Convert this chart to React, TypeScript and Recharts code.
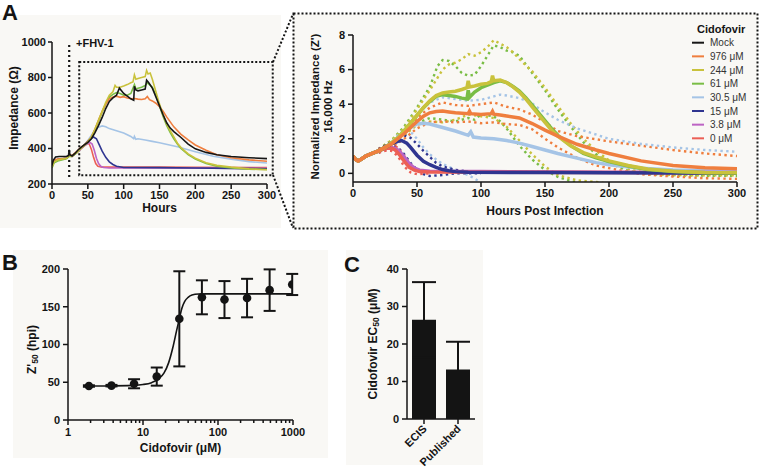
import React from "react";
import {
  Bar,
  BarChart,
  ComposedChart,
  ErrorBar,
  Line,
  LineChart,
  ReferenceArea,
  ReferenceLine,
  Scatter,
  XAxis,
  YAxis,
} from "recharts";

const FONT = '"Liberation Sans", Arial, Helvetica, sans-serif';
const INK = "#141414";
const PANEL_BG = "#f9f8f5";

type Pair = [number, number];

// ---------- Panel A, left: raw impedance (ohm) vs hours ----------
const hourTicks = [0, 50, 100, 150, 200, 250, 300];
const ohmTicks = [200, 400, 600, 800, 1000];

const mockOhm: Pair[] = [
  [0, 305], [2, 335], [5, 352], [10, 355], [20, 355], [23, 360], [24, 392], [25, 365], [28, 358],
  [32, 372], [36, 390], [40, 405], [45, 420], [50, 435], [55, 455], [60, 490], [65, 530], [70, 575],
  [75, 625], [80, 665], [85, 685], [90, 700], [94, 740], [97, 725], [100, 710], [105, 695], [110, 680],
  [114, 672], [115, 750], [117, 730], [120, 725], [125, 730], [130, 735], [132, 785], [135, 770],
  [140, 740], [145, 690], [150, 640], [155, 590], [160, 545], [165, 515], [170, 495], [180, 462],
  [190, 425], [200, 398], [215, 378], [230, 365], [250, 355], [275, 348], [300, 343],
];
const ohm976: Pair[] = [
  [0, 320], [3, 335], [8, 340], [20, 345], [24, 365], [28, 360], [35, 385], [40, 405], [45, 420],
  [50, 440], [55, 465], [60, 510], [65, 560], [70, 610], [75, 650], [80, 680], [85, 690], [90, 695],
  [95, 688], [100, 692], [105, 685], [110, 680], [115, 682], [120, 678], [125, 676], [130, 680],
  [133, 693], [136, 675], [140, 668], [145, 655], [150, 635], [155, 610], [160, 578], [165, 550],
  [170, 522], [180, 480], [190, 448], [200, 420], [215, 390], [230, 365], [250, 348], [275, 336],
  [300, 328],
];
const ohm244: Pair[] = [
  [0, 295], [3, 325], [8, 335], [20, 345], [24, 360], [28, 358], [35, 380], [40, 400], [45, 418],
  [50, 438], [55, 465], [60, 510], [65, 560], [70, 610], [75, 660], [80, 700], [85, 720], [88, 755],
  [90, 745], [95, 745], [100, 752], [105, 760], [110, 770], [113, 775], [115, 815], [117, 790],
  [120, 795], [125, 800], [130, 805], [132, 840], [134, 820], [137, 825], [140, 790], [145, 720],
  [150, 650], [155, 590], [160, 540], [165, 500], [170, 465], [175, 430], [180, 405], [190, 370],
  [200, 345], [215, 320], [230, 305], [250, 295], [275, 285], [300, 280],
];
const ohm61: Pair[] = [
  [0, 290], [3, 320], [8, 330], [20, 342], [24, 355], [28, 355], [35, 378], [40, 400], [45, 418],
  [50, 436], [55, 462], [60, 505], [65, 555], [70, 605], [75, 650], [80, 690], [85, 705], [90, 715],
  [95, 710], [100, 700], [105, 700], [110, 710], [115, 760], [117, 735], [120, 740], [125, 745],
  [130, 755], [133, 770], [136, 760], [140, 745], [145, 700], [150, 640], [155, 580], [160, 530],
  [165, 490], [170, 455], [175, 425], [180, 400], [190, 365], [200, 340], [215, 315], [230, 300],
  [250, 290], [275, 283], [300, 282],
];
const ohm305: Pair[] = [
  [0, 300], [3, 330], [8, 338], [20, 345], [24, 360], [28, 358], [35, 380], [40, 400], [45, 420],
  [50, 445], [55, 475], [60, 505], [65, 520], [70, 527], [75, 522], [80, 512], [90, 500], [100, 487],
  [110, 468], [114, 455], [115, 468], [117, 452], [120, 455], [130, 448], [140, 440], [150, 432],
  [175, 410], [200, 382], [225, 356], [250, 340], [275, 326], [300, 318],
];
const ohm15: Pair[] = [
  [0, 300], [3, 330], [8, 338], [20, 345], [24, 360], [28, 358], [35, 380], [40, 400], [45, 420],
  [50, 440], [55, 458], [58, 465], [62, 455], [66, 420], [70, 385], [75, 350], [80, 325], [85, 310],
  [90, 300], [100, 293], [150, 292], [200, 290], [250, 288], [300, 286],
];
const ohm38: Pair[] = [
  [0, 300], [3, 328], [8, 336], [20, 345], [24, 358], [28, 356], [35, 378], [40, 398], [45, 415],
  [50, 428], [53, 434], [56, 425], [59, 390], [62, 345], [65, 315], [68, 300], [72, 293], [80, 290],
  [150, 290], [300, 288],
];
const ohm0: Pair[] = [
  [0, 305], [3, 330], [8, 338], [20, 345], [24, 358], [28, 356], [35, 378], [40, 398], [45, 415],
  [49, 428], [52, 425], [55, 395], [58, 350], [61, 315], [64, 300], [70, 295], [150, 295], [200, 294],
  [300, 292],
];

// ---------- Panel A, right: normalized impedance Z' ----------
const zTicks = [0, 2, 4, 6, 8];

const z976: Pair[] = [
  [0, 1.0], [2, 0.8], [4, 0.72], [7, 0.85], [10, 1.0], [15, 1.15], [20, 1.3], [25, 1.5], [30, 1.7],
  [35, 2.0], [40, 2.3], [45, 2.65], [50, 3.0], [55, 3.3], [60, 3.5], [65, 3.58], [70, 3.6], [75, 3.55],
  [80, 3.5], [90, 3.45], [91, 3.6], [92, 3.45], [100, 3.4], [108, 3.45], [109, 3.58], [110, 3.42],
  [115, 3.38], [120, 3.32], [130, 3.2], [140, 2.88], [150, 2.5], [160, 2.15], [175, 1.68],
  [190, 1.35], [200, 1.15], [225, 0.72], [250, 0.45], [275, 0.32], [300, 0.26],
];
const z244: Pair[] = [
  [0, 1.0], [2, 0.8], [4, 0.72], [7, 0.85], [10, 1.0], [15, 1.15], [20, 1.3], [25, 1.5], [30, 1.75],
  [35, 2.05], [40, 2.45], [45, 2.9], [50, 3.35], [55, 3.8], [60, 4.2], [65, 4.5], [70, 4.65],
  [75, 4.7], [80, 4.75], [85, 4.85], [89, 4.95], [90, 5.35], [91, 5.0], [95, 5.05], [100, 5.15],
  [105, 5.2], [108, 5.3], [109, 5.65], [110, 5.35], [115, 5.4], [120, 5.25], [125, 5.0], [130, 4.7],
  [135, 4.3], [140, 3.85], [145, 3.4], [150, 2.95], [155, 2.5], [160, 2.15], [170, 1.6], [180, 1.2],
  [190, 0.95], [200, 0.72], [215, 0.45], [230, 0.25], [250, 0.12], [275, 0.05], [300, 0.03],
];
const z61: Pair[] = [
  [0, 1.0], [2, 0.8], [4, 0.72], [7, 0.85], [10, 1.0], [15, 1.15], [20, 1.3], [25, 1.5], [30, 1.75],
  [35, 2.05], [40, 2.45], [45, 2.9], [50, 3.35], [55, 3.8], [60, 4.15], [65, 4.45], [70, 4.55],
  [75, 4.5], [80, 4.45], [85, 4.35], [89, 4.3], [90, 4.8], [91, 4.4], [95, 4.7], [100, 4.95],
  [105, 5.1], [110, 5.25], [115, 5.35], [120, 5.25], [125, 5.02], [130, 4.75], [135, 4.38],
  [140, 3.95], [145, 3.5], [150, 3.05], [155, 2.6], [160, 2.2], [170, 1.6], [180, 1.15], [190, 0.9],
  [200, 0.68], [215, 0.42], [230, 0.22], [250, 0.1], [275, 0.04], [300, 0.02],
];
const z305: Pair[] = [
  [0, 1.0], [2, 0.8], [4, 0.72], [7, 0.85], [10, 1.0], [15, 1.15], [20, 1.3], [25, 1.5], [30, 1.75],
  [35, 2.05], [40, 2.35], [45, 2.65], [50, 2.85], [55, 2.9], [60, 2.85], [65, 2.75], [70, 2.65],
  [80, 2.45], [90, 2.2], [92, 2.4], [94, 2.1], [100, 2.05], [110, 2.0], [120, 1.9], [130, 1.75],
  [140, 1.55], [150, 1.35], [160, 1.15], [175, 0.88], [190, 0.62], [200, 0.5], [225, 0.3],
  [250, 0.2], [275, 0.15], [300, 0.12],
];
const z15: Pair[] = [
  [0, 1.0], [2, 0.8], [4, 0.72], [7, 0.85], [10, 1.0], [15, 1.15], [20, 1.3], [25, 1.5], [30, 1.7],
  [35, 1.85], [38, 1.9], [42, 1.75], [45, 1.5], [50, 1.05], [55, 0.7], [60, 0.5], [65, 0.35],
  [70, 0.22], [75, 0.15], [80, 0.1], [90, 0.06], [150, 0.05], [200, 0.03], [300, 0.0],
];
const z38: Pair[] = [
  [0, 1.0], [2, 0.8], [4, 0.72], [7, 0.85], [10, 1.0], [15, 1.15], [20, 1.3], [25, 1.45], [30, 1.5],
  [33, 1.45], [36, 1.3], [40, 0.95], [44, 0.55], [48, 0.3], [52, 0.18], [60, 0.12], [100, 0.1],
  [200, 0.06], [300, 0.05],
];
const z0: Pair[] = [
  [0, 1.0], [2, 0.8], [4, 0.72], [7, 0.85], [10, 1.0], [15, 1.15], [20, 1.3], [25, 1.45], [30, 1.45],
  [33, 1.35], [36, 1.1], [40, 0.7], [44, 0.35], [48, 0.18], [52, 0.1], [60, 0.08], [200, 0.05],
  [300, 0.04],
];

// dotted spread lines (mean +/- SD)
const z61Hi: Pair[] = [
  [20, 1.4], [30, 1.9], [40, 2.7], [50, 3.8], [60, 5.0], [66, 6.2], [70, 6.55], [75, 6.5], [80, 6.2],
  [85, 5.8], [90, 5.65], [95, 5.7], [100, 6.2], [105, 6.8], [110, 7.4], [115, 7.3], [120, 7.1],
  [125, 7.0], [130, 6.8], [135, 6.3], [140, 5.8], [150, 4.8], [160, 3.7], [170, 2.7], [180, 1.8],
  [190, 1.1], [200, 0.6], [215, 0.15], [230, -0.05], [250, -0.12], [300, -0.15],
];
const z244Hi: Pair[] = [
  [20, 1.4], [30, 1.9], [40, 2.6], [50, 3.7], [60, 4.8], [70, 6.0], [75, 6.3], [80, 6.4], [85, 6.6],
  [90, 6.9], [95, 6.8], [100, 7.0], [105, 7.3], [110, 7.7], [115, 7.5], [120, 7.3], [125, 7.0],
  [130, 6.6], [140, 5.9], [150, 4.95], [160, 3.9], [170, 2.9], [180, 2.0], [190, 1.3], [200, 0.75],
  [215, 0.25], [230, 0.0], [250, -0.1], [300, -0.12],
];
const z61Lo: Pair[] = [
  [40, 2.2], [50, 2.9], [60, 3.2], [70, 3.1], [80, 3.0], [90, 3.2], [95, 3.1], [100, 3.4],
  [110, 3.3], [115, 3.0], [120, 2.6], [125, 2.1], [130, 1.6], [135, 1.2], [140, 0.8], [145, 0.5],
  [150, 0.2], [160, -0.2], [170, -0.45], [180, -0.6],
];
const z244Lo: Pair[] = [
  [40, 2.2], [50, 2.8], [60, 3.0], [70, 2.95], [80, 3.1], [90, 3.4], [100, 3.3], [110, 3.2],
  [120, 2.7], [130, 1.9], [140, 1.1], [150, 0.4], [160, -0.1], [175, -0.4], [190, -0.5], [200, -0.6],
];
const z976Hi: Pair[] = [
  [20, 1.4], [30, 1.8], [40, 2.4], [50, 3.2], [60, 3.8], [70, 4.1], [80, 3.95], [90, 3.9],
  [100, 4.0], [110, 4.1], [120, 3.85], [130, 3.7], [140, 3.4], [150, 2.95], [160, 2.45], [175, 2.15],
  [200, 1.85], [225, 1.6], [250, 1.35], [275, 1.15], [300, 1.0],
];
const z976Lo: Pair[] = [
  [20, 1.2], [30, 1.5], [40, 2.0], [50, 2.6], [60, 2.95], [70, 3.0], [80, 2.95], [90, 3.0],
  [100, 2.9], [110, 2.95], [120, 2.85], [130, 2.8], [140, 2.55], [150, 2.0], [160, 1.5], [175, 0.9],
  [190, 0.45], [200, 0.3], [225, -0.05], [250, -0.18], [275, -0.28], [300, -0.32],
];
const z305Hi: Pair[] = [
  [30, 1.7], [40, 2.5], [50, 3.4], [60, 4.1], [70, 4.4], [80, 4.3], [90, 4.2], [100, 4.25],
  [110, 4.45], [115, 4.55], [120, 4.5], [130, 4.35], [140, 4.05], [146, 3.7], [160, 3.1], [175, 2.6],
  [200, 2.0], [225, 1.7], [250, 1.5], [275, 1.35], [300, 1.25],
];
const z305Lo: Pair[] = [
  [20, 1.3], [30, 1.8], [35, 2.2], [40, 2.5], [45, 2.4], [50, 2.0], [55, 1.5], [60, 1.1],
  [65, 0.8], [70, 0.55], [80, 0.2], [90, -0.1], [95, -0.3], [100, -0.55],
];
const z15Hi: Pair[] = [
  [20, 1.4], [30, 1.8], [35, 2.0], [40, 2.2], [45, 2.05], [50, 1.7], [55, 1.3], [60, 0.95],
  [65, 0.6], [70, 0.4], [80, 0.2], [90, 0.1], [100, 0.1], [150, 0.08],
];
const z15Lo: Pair[] = [
  [20, 1.2], [30, 1.6], [35, 1.5], [40, 1.1], [45, 0.6], [50, 0.2], [55, -0.05], [60, -0.15],
  [70, -0.1], [80, 0.0], [100, 0.0],
];
const z0Hi: Pair[] = [
  [20, 1.4], [25, 1.55], [30, 1.6], [35, 1.5], [40, 1.0], [45, 0.5], [50, 0.2], [55, 0.1],
];
const z0Lo: Pair[] = [
  [20, 1.2], [25, 1.3], [30, 1.3], [35, 1.0], [40, 0.4], [45, 0.05], [50, -0.05], [60, 0.0],
];

const legendLabels = ["Mock", "976 μM", "244 μM", "61 μM", "30.5 μM", "15 μM", "3.8 μM", "0 μM"];

// ---------- Panel B: Z'50 vs cidofovir ----------
const concUM = [1.9, 3.8, 7.6, 15.25, 30.5, 61, 122, 244, 488, 976];
const z50Mean = [45, 45.5, 48, 57.5, 134, 162.5, 159.5, 161.5, 172, 179.5];
const z50Sd = [1, 1, 6, 12, 63, 22.5, 24.5, 25.5, 27.5, 14];
const fitConc = [1.9, 4, 7, 10, 13, 16, 19, 22, 25, 28, 30.5, 33, 36, 40, 45, 55, 70, 100, 300, 1000];
const fitZ50 = [45, 45.2, 45.8, 47, 49.5, 54, 62, 76, 96, 118, 134, 148, 157, 162.5, 165.5, 166.8, 167, 167, 167, 167];
const z50Ticks = [0, 50, 100, 150, 200];
const logTicks = [
  1, 2, 3, 4, 5, 6, 7, 8, 9, 10, 20, 30, 40, 50, 60, 70, 80, 90, 100, 200, 300, 400, 500, 600, 700,
  800, 900, 1000,
];
const logMajor = [1, 10, 100, 1000];

// ---------- Panel C: EC50 ----------
const ec50Labels = ["ECIS", "Published"];
const ec50Values = [26.5, 13.2];
const ec50Err = [10, 7.4];
const ec50Ticks = [0, 10, 20, 30, 40];

const COL = {
  mock: "#161616",
  c976: "#ef7e3e",
  c244: "#c9c23c",
  c61: "#79bd45",
  c305: "#a5c4e6",
  c15: "#2f3590",
  c38: "#bd64c4",
  c0: "#ec5f55",
};
const legendColors = [COL.mock, COL.c976, COL.c244, COL.c61, COL.c305, COL.c15, COL.c38, COL.c0];

const toPts = (arr: Pair[]) => arr.map(([h, v]) => ({ h, v }));

const leftSeries = [
  { name: "30.5", pts: ohm305, color: COL.c305 },
  { name: "0", pts: ohm0, color: COL.c0 },
  { name: "3.8", pts: ohm38, color: COL.c38 },
  { name: "15", pts: ohm15, color: COL.c15 },
  { name: "61", pts: ohm61, color: COL.c61 },
  { name: "976", pts: ohm976, color: COL.c976 },
  { name: "244", pts: ohm244, color: COL.c244 },
  { name: "mock", pts: mockOhm, color: COL.mock },
];
const dottedSeries = [
  { name: "61hi", pts: z61Hi, color: COL.c61 },
  { name: "244hi", pts: z244Hi, color: COL.c244 },
  { name: "61lo", pts: z61Lo, color: COL.c61 },
  { name: "244lo", pts: z244Lo, color: COL.c244 },
  { name: "976hi", pts: z976Hi, color: COL.c976 },
  { name: "976lo", pts: z976Lo, color: COL.c976 },
  { name: "305hi", pts: z305Hi, color: COL.c305 },
  { name: "305lo", pts: z305Lo, color: COL.c305 },
  { name: "15hi", pts: z15Hi, color: COL.c15 },
  { name: "15lo", pts: z15Lo, color: COL.c15 },
  { name: "0hi", pts: z0Hi, color: COL.c0 },
  { name: "0lo", pts: z0Lo, color: COL.c0 },
];
const solidSeries = [
  { name: "30.5", pts: z305, color: COL.c305 },
  { name: "3.8", pts: z38, color: COL.c38 },
  { name: "0", pts: z0, color: COL.c0 },
  { name: "15", pts: z15, color: COL.c15 },
  { name: "61", pts: z61, color: COL.c61 },
  { name: "244", pts: z244, color: COL.c244 },
  { name: "976", pts: z976, color: COL.c976 },
];

const z50Pts = concUM.map((x, i) => ({ x, y: z50Mean[i], e: z50Sd[i] }));
const fitPts = fitConc.map((x, i) => ({ x, y: fitZ50[i] }));
const ec50Data = ec50Labels.map((name, i) => ({ name, v: ec50Values[i], e: ec50Err[i] }));

const tickStyle = { fill: INK, fontSize: 11, fontWeight: 700, fontFamily: FONT };
const axisStyle = { stroke: INK, strokeWidth: 1.5 };
const titleStyle = { fill: INK, fontSize: 12, fontWeight: 700, fontFamily: FONT };

// rotated y-axis title drawn from the axis viewBox
const yTitle =
  (cx: number, body: React.ReactNode, shift = 0, size = 12) =>
  (props: any) => {
    const vb = props.viewBox || { y: 0, height: 0 };
    const cy = vb.y + vb.height / 2 + shift;
    return (
      <text
        x={cx}
        y={cy}
        transform={`rotate(-90 ${cx} ${cy})`}
        textAnchor="middle"
        dominantBaseline="central"
        fill={INK}
        fontSize={size}
        fontWeight={700}
        fontFamily={FONT}
      >
        {body}
      </text>
    );
  };

function LogTick({ x, y, payload }: any) {
  const major = logMajor.includes(payload.value);
  return (
    <g>
      <line x1={x} x2={x} y1={y} y2={y + (major ? 5 : 3)} stroke={INK} strokeWidth={1.5} />
      {major && (
        <text x={x} y={y + 16} textAnchor="middle" {...tickStyle}>
          {payload.value}
        </text>
      )}
    </g>
  );
}

function SlantTick({ x, y, payload }: any) {
  return (
    <text
      x={x}
      y={y}
      dy={5}
      transform={`rotate(-45 ${x} ${y})`}
      textAnchor="end"
      {...tickStyle}
    >
      {payload.value}
    </text>
  );
}

function ImpedanceRaw() {
  return (
    <LineChart width={290} height={230} margin={{ top: 42, right: 23, left: 0, bottom: 18 }}>
      <XAxis
        type="number"
        dataKey="h"
        domain={[0, 300]}
        ticks={hourTicks}
        height={28}
        tick={tickStyle}
        axisLine={axisStyle}
        tickLine={axisStyle}
        tickSize={5}
        tickMargin={2}
        allowDataOverflow
        label={{ value: "Hours", position: "insideBottom", offset: 0, style: titleStyle }}
      />
      <YAxis
        type="number"
        domain={[200, 1000]}
        ticks={ohmTicks}
        width={52}
        tick={tickStyle}
        axisLine={axisStyle}
        tickLine={axisStyle}
        tickSize={4}
        tickMargin={2}
        allowDataOverflow
        label={yTitle(14, "Impedance  (Ω)", -5)}
      />
      <ReferenceLine
        segment={[{ x: 24, y: 240 }, { x: 24, y: 1000 }]}
        stroke={INK}
        strokeWidth={2.2}
        strokeDasharray="2 3"
        ifOverflow="visible"
      />
      <ReferenceArea
        x1={38}
        x2={308}
        y1={250}
        y2={887}
        fill="none"
        fillOpacity={0}
        stroke={INK}
        strokeWidth={2}
        strokeDasharray="2 2"
        ifOverflow="visible"
      />
      {leftSeries.map((s) => (
        <Line
          key={s.name}
          data={toPts(s.pts)}
          dataKey="v"
          type="linear"
          stroke={s.color}
          strokeWidth={1.6}
          dot={false}
          isAnimationActive={false}
        />
      ))}
    </LineChart>
  );
}

function ImpedanceNorm() {
  return (
    <LineChart width={455} height={215} margin={{ top: 25, right: 18, left: 0, bottom: 10 }}>
      <XAxis
        type="number"
        dataKey="h"
        domain={[0, 300]}
        ticks={hourTicks}
        height={33}
        tick={tickStyle}
        axisLine={axisStyle}
        tickLine={axisStyle}
        tickSize={5}
        tickMargin={2}
        allowDataOverflow
        label={{ value: "Hours Post Infection", position: "insideBottom", offset: 0, style: titleStyle }}
      />
      <YAxis
        type="number"
        domain={[-0.5, 8]}
        ticks={zTicks}
        width={53}
        tick={tickStyle}
        axisLine={axisStyle}
        tickLine={axisStyle}
        tickSize={5}
        tickMargin={3}
        allowDataOverflow
        label={yTitle(
          15,
          <>
            <tspan x={15}>Normalized Impedance  (Z')</tspan>
            <tspan x={15} dy={13}>16,000 Hz</tspan>
          </>,
          -2,
          11.5
        )}
      />
      {dottedSeries.map((s) => (
        <Line
          key={s.name}
          data={toPts(s.pts)}
          dataKey="v"
          type="linear"
          stroke={s.color}
          strokeWidth={2.4}
          strokeDasharray="2.4 3.4"
          dot={false}
          isAnimationActive={false}
        />
      ))}
      {solidSeries.map((s) => (
        <Line
          key={s.name}
          data={toPts(s.pts)}
          dataKey="v"
          type="linear"
          stroke={s.color}
          strokeWidth={3.5}
          dot={false}
          isAnimationActive={false}
        />
      ))}
    </LineChart>
  );
}

function Z50Chart() {
  return (
    <ComposedChart width={330} height={225} margin={{ top: 29, right: 37, left: 0, bottom: 13 }}>
      <XAxis
        type="number"
        dataKey="x"
        scale="log"
        domain={[1, 1000]}
        ticks={logTicks}
        interval={0}
        height={32}
        tick={<LogTick />}
        axisLine={axisStyle}
        tickLine={false}
        tickSize={0}
        tickMargin={0}
        allowDataOverflow
        label={{ value: "Cidofovir (μM)", position: "insideBottom", offset: 0, style: titleStyle }}
      />
      <YAxis
        type="number"
        dataKey="y"
        domain={[0, 200]}
        ticks={z50Ticks}
        width={68}
        tick={tickStyle}
        axisLine={axisStyle}
        tickLine={axisStyle}
        tickSize={5}
        tickMargin={3}
        label={yTitle(
          32,
          <>
            <tspan>Z'</tspan>
            <tspan fontSize={8.5} dy={3}>50</tspan>
            <tspan dy={-3}> (hpi)</tspan>
          </>,
          5
        )}
      />
      <Line
        data={fitPts}
        dataKey="y"
        type="monotone"
        stroke={INK}
        strokeWidth={1.6}
        dot={false}
        isAnimationActive={false}
      />
      <Scatter
        data={z50Pts}
        dataKey="y"
        fill={INK}
        isAnimationActive={false}
        shape={(p: any) => <circle cx={p.cx} cy={p.cy} r={4.3} fill={INK} />}
      >
        <ErrorBar dataKey="e" direction="y" width={6} stroke={INK} strokeWidth={2} />
      </Scatter>
    </ComposedChart>
  );
}

function Ec50Chart() {
  return (
    <BarChart width={150} height={230} data={ec50Data} margin={{ top: 29, right: 15, left: 0, bottom: 25 }}>
      <XAxis
        dataKey="name"
        height={26}
        interval={0}
        tick={<SlantTick />}
        axisLine={axisStyle}
        tickLine={axisStyle}
        tickSize={5}
        tickMargin={2}
      />
      <YAxis
        type="number"
        domain={[0, 40]}
        ticks={ec50Ticks}
        width={67}
        tick={tickStyle}
        axisLine={axisStyle}
        tickLine={axisStyle}
        tickSize={5}
        tickMargin={3}
        label={yTitle(
          33,
          <>
            <tspan>Cidofovir EC</tspan>
            <tspan fontSize={8.5} dy={3}>50</tspan>
            <tspan dy={-3}> (μM)</tspan>
          </>,
          0
        )}
      />
      <Bar dataKey="v" fill={INK} barSize={24} isAnimationActive={false}>
        <ErrorBar dataKey="e" direction="y" width={12} stroke={INK} strokeWidth={2} />
      </Bar>
    </BarChart>
  );
}

function NormLegend() {
  return (
    <svg width={70} height={130} style={{ position: "absolute", left: 688, top: 20 }}>
      <text x={9} y={13} fontSize={11} fontWeight={700} fontFamily={FONT} fill={INK}>
        Cidofovir
      </text>
      {legendLabels.map((lab, i) => {
        const cy = 22.7 + i * 13.66;
        return (
          <g key={lab}>
            <line x1={4} x2={16} y1={cy} y2={cy} stroke={legendColors[i]} strokeWidth={2} />
            <text x={22} y={cy + 3.6} fontSize={10} fontFamily={FONT} fill="#333">
              {lab}
            </text>
          </g>
        );
      })}
    </svg>
  );
}

const abs = (left: number, top: number): React.CSSProperties => ({ position: "absolute", left, top });

export default function App() {
  return (
    <div
      style={{
        position: "absolute",
        left: 0,
        top: 0,
        width: 760,
        height: 470,
        background: "#ffffff",
        fontFamily: FONT,
        overflow: "hidden",
      }}
    >
      <div style={{ ...abs(0, 15), width: 281, height: 213, background: PANEL_BG }} />
      <div style={{ ...abs(293, 14), width: 465, height: 215, background: PANEL_BG }} />
      <div style={{ ...abs(13, 250), width: 315, height: 208, background: PANEL_BG }} />
      <div style={{ ...abs(346, 250), width: 137, height: 215, background: PANEL_BG }} />

      <div style={abs(0, 0)}>
        <ImpedanceRaw />
      </div>
      <div style={abs(300, 10)}>
        <ImpedanceNorm />
      </div>
      <NormLegend />
      <div style={abs(0, 240)}>
        <Z50Chart />
      </div>
      <div style={abs(340, 240)}>
        <Ec50Chart />
      </div>

      <svg width={760} height={470} style={{ ...abs(0, 0), pointerEvents: "none" }}>
        <g fontFamily={FONT} fontWeight={700} fill={INK}>
          <text x={2} y={20} fontSize={22}>A</text>
          <text x={2} y={270} fontSize={22}>B</text>
          <text x={344} y={272} fontSize={22}>C</text>
          <text x={76} y={47} fontSize={11}>+FHV-1</text>
        </g>
        <g fill="none" stroke={INK} strokeWidth={2} strokeDasharray="2 2">
          <rect x={293.5} y={13.5} width={464} height={215} />
          <line x1={273} y1={62} x2={293} y2={14} />
          <line x1={273} y1={175} x2={293} y2={228} />
        </g>
      </svg>
    </div>
  );
}
